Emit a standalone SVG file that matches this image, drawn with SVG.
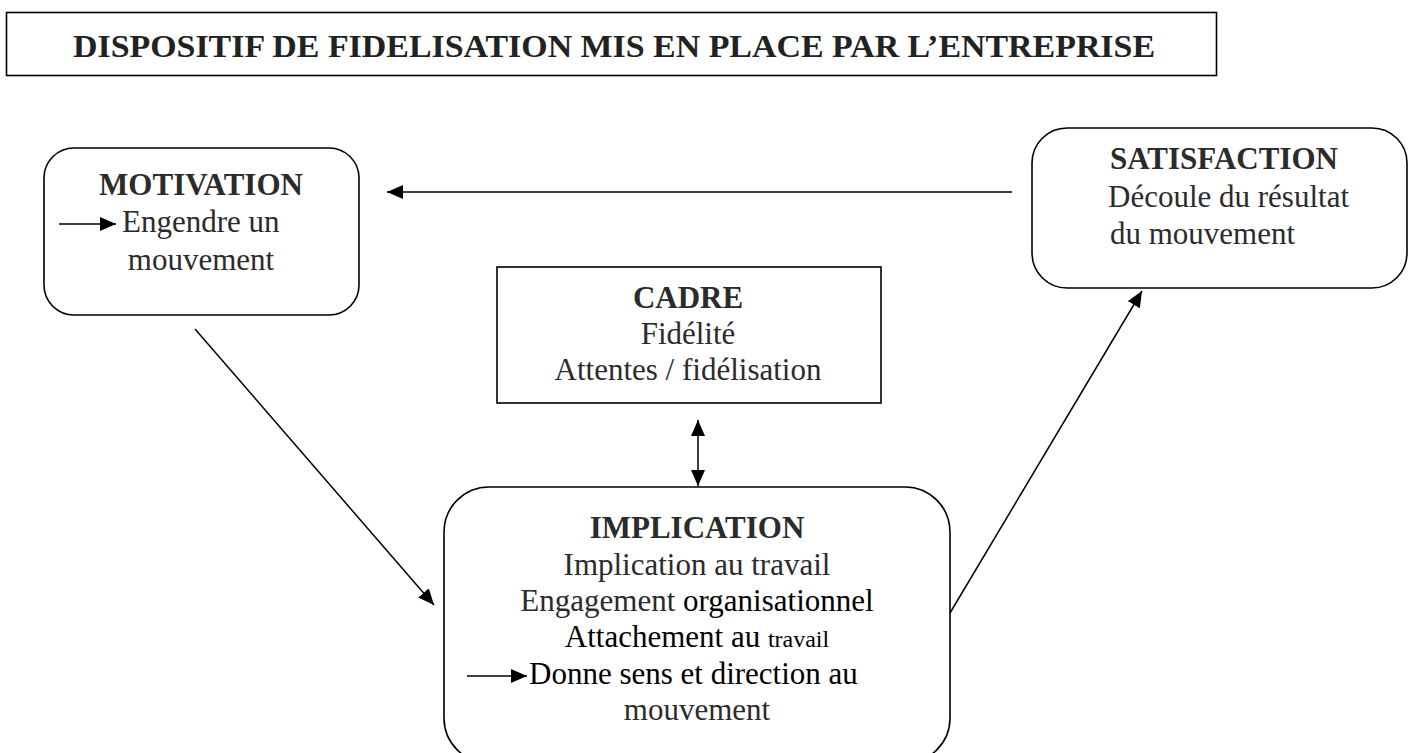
<svg xmlns="http://www.w3.org/2000/svg" width="1410" height="753" viewBox="0 0 1410 753">
  <defs>
    <marker id="head" markerUnits="userSpaceOnUse" markerWidth="16" markerHeight="14" refX="16" refY="7" orient="auto-start-reverse">
      <path d="M0,0 L16,7 L0,14 z" fill="#000"/>
    </marker>
    <style>
      .box { fill: #fff; stroke: #000; stroke-width: 1.6; }
      .link { stroke: #000; stroke-width: 1.5; fill: none; marker-end: url(#head); }
      .both { marker-start: url(#head); }
      .hd { font-family: "Liberation Serif", "Times New Roman", serif; font-weight: bold; font-size: 31px; fill: #2b2b2b; text-anchor: middle; }
      .tx { font-family: "Liberation Serif", "Times New Roman", serif; font-size: 31px; fill: #2b2b2b; }
      .c { text-anchor: middle; }
      .k { fill: #000; }
      .title { font-family: "Liberation Serif", "Times New Roman", serif; font-weight: bold; font-size: 32px; fill: #222; }
    </style>
  </defs>
  <rect width="1410" height="753" fill="#fff"/>

  <!-- heading banner -->
  <g id="title">
    <rect class="box" x="6.5" y="12.5" width="1210" height="63"/>
    <text class="title" x="73" y="57" textLength="1082" lengthAdjust="spacingAndGlyphs">DISPOSITIF DE FIDELISATION MIS EN PLACE PAR L’ENTREPRISE</text>
  </g>

  <!-- connectors -->
  <g id="connectors">
    <line class="link" x1="1012" y1="192" x2="387" y2="192"/>
    <line class="link" x1="195" y1="329" x2="434" y2="605"/>
    <line class="link" x1="950" y1="613" x2="1142" y2="291"/>
    <line class="link both" x1="698" y1="420" x2="698" y2="486"/>
  </g>

  <g id="motivation">
    <rect class="box" x="44" y="148" width="315" height="167" rx="30"/>
    <text class="hd" x="201" y="195">MOTIVATION</text>
    <line class="link" x1="59" y1="224" x2="116" y2="224"/>
    <text class="tx" x="122" y="232">Engendre un</text>
    <text class="tx c" x="201" y="270">mouvement</text>
  </g>

  <g id="satisfaction">
    <rect class="box" x="1032" y="128" width="375" height="160" rx="35"/>
    <text class="hd" x="1224" y="169">SATISFACTION</text>
    <text class="tx" x="1108" y="207">Découle du résultat</text>
    <text class="tx" x="1110" y="244">du mouvement</text>
  </g>

  <g id="cadre">
    <rect class="box" x="497" y="267" width="384" height="136"/>
    <text class="hd" x="688" y="308">CADRE</text>
    <text class="tx c" x="688" y="344">Fidélité</text>
    <text class="tx c" x="688" y="380">Attentes / fidélisation</text>
  </g>

  <g id="implication">
    <rect class="box" x="444" y="487" width="506" height="276" rx="45"/>
    <text class="hd" x="697" y="538">IMPLICATION</text>
    <text class="tx c" x="697" y="575">Implication au travail</text>
    <text class="tx c" x="697" y="611">Engagement<tspan class="k"> organisationnel</tspan></text>
    <text class="tx c k" x="697" y="647">Attachement au <tspan font-size="24">travail</tspan></text>
    <line class="link" x1="467" y1="676" x2="527" y2="676"/>
    <text class="tx k" x="529" y="684">Donne sens et direction au</text>
    <text class="tx c" x="697" y="720">mouvement</text>
  </g>
</svg>
